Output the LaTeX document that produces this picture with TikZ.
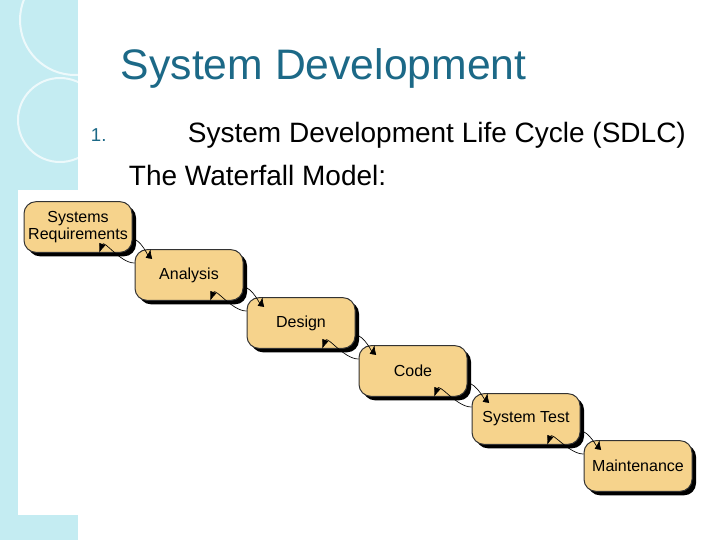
\documentclass[tikz,border=0pt]{standalone}
\usepackage{fontspec}
\setmainfont{Liberation Sans}
\usetikzlibrary{arrows.meta}
\definecolor{titleteal}{RGB}{28,105,135}
\definecolor{stripcyan}{RGB}{196,236,242}
\definecolor{boxtan}{RGB}{246,211,140}
\tikzset{every picture/.style={line width=0.75pt}}
\tikzset{
  phase/.style={draw=black!80, fill=boxtan, rounded corners=9pt, minimum width=81pt, minimum height=38pt, align=center, font=\fontsize{12}{12.5}\selectfont, inner sep=1pt,
    preaction={fill=black, transform canvas={shift={(3pt,-3pt)}}}},
  flow/.style={-{Latex[length=7pt,width=5pt]}, line width=0.5pt},
}
\begin{document}
\begin{tikzpicture}[x=0.75pt,y=0.75pt,yscale=-1,xscale=1]
	\useasboundingbox (0,0) rectangle (720,540);
	%background strip
	\fill[white] (0,0) rectangle (720,540);
	\fill[stripcyan] (0,0) rectangle (78,540);
	\draw[white, line width=1.5pt, opacity=0.7] (75,20) circle (55);
	\draw[white, line width=1.5pt, opacity=0.7] (60,120) circle (42);
	\fill[white] (18,190) rectangle (720,515);

	% Text Node
	\draw (116,68) node [anchor=west, text=titleteal, font=\fontsize{32}{36}\selectfont] {System Development};
	% Text Node
	\draw (86,135) node [anchor=west, text=titleteal, font=\fontsize{14}{16}\selectfont] {1.};
	% Text Node
	\draw (183,135) node [anchor=west, font=\fontsize{21}{24}\selectfont] {System Development Life Cycle (SDLC)};
	% Text Node
	\draw (124,175) node [anchor=west, font=\fontsize{21}{24}\selectfont] {The Waterfall Model:};

	%phases
	\node[phase] (req) at (78,227) {Systems\\Requirements};
	\node[phase] (ana) at (189,275) {Analysis};
	\node[phase] (des) at (301,323) {Design};
	\node[phase] (cod) at (413,371) {Code};
	\node[phase] (tst) at (526,419) {System Test};
	\node[phase] (mnt) at (638,466) {Maintenance};

	%forward and back arrows
	\foreach \a/\b in {req/ana, ana/des, des/cod, cod/tst, tst/mnt}{
		\draw[flow] ([yshift=9]\a.east) to[out=0, in=100] ([xshift=12]\b.north west);
		\draw[flow] ([yshift=-9]\b.west) to[out=180, in=-70] ([xshift=-25]\a.south east);
	}
\end{tikzpicture}
\end{document}
